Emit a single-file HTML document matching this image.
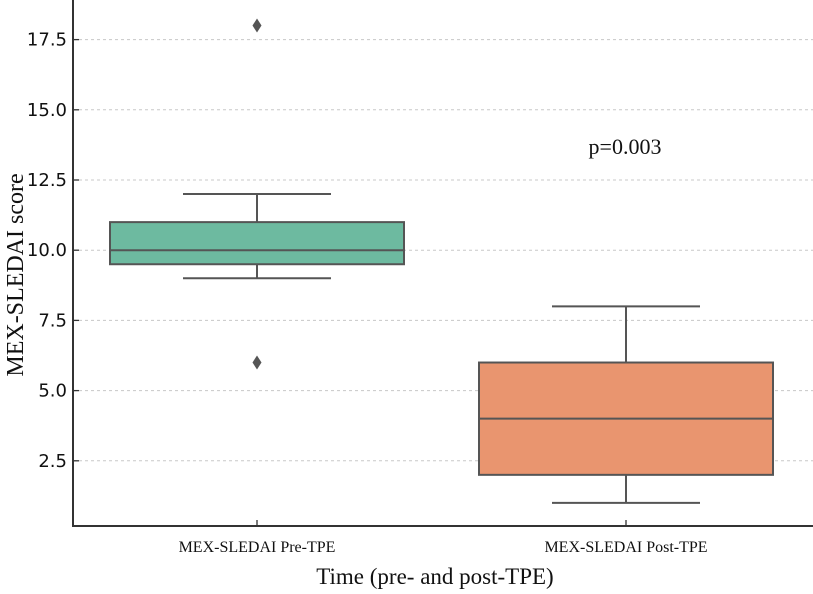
<!DOCTYPE html>
<html><head><meta charset="utf-8"><style>
body{margin:0;background:#fff;}
svg text{font-family:"Liberation Serif",serif;}
</style></head><body>
<svg id="chart" width="813" height="589" viewBox="0 0 813 589" xmlns="http://www.w3.org/2000/svg">
<g id="grid"></g>
<g id="boxes"></g>
<g id="axes"></g>
<text x="625" y="154" font-size="22" text-anchor="middle" fill="#111">p=0.003</text>
<text x="435" y="584" font-size="23" text-anchor="middle" fill="#111">Time (pre- and post-TPE)</text>
<text transform="translate(23,275) rotate(-90)" font-size="24" text-anchor="middle" fill="#111">MEX-SLEDAI score</text>
</svg>
<script>
const categories=["MEX-SLEDAI Pre-TPE","MEX-SLEDAI Post-TPE"];
const q1=[9.5,2];
const median=[10,4];
const q3=[11,6];
const whiskLow=[9,1];
const whiskHigh=[12,8];
const fliers=[[18,6],[]];
const yTicks=[2.5,5.0,7.5,10.0,12.5,15.0,17.5];
const colors=["#6dbaa0","#e9956f"];
const NS="http://www.w3.org/2000/svg";
const y=v=>531-v*28.08;
const x=i=>257+i*369;
const L=73,B=526;
function mk(t,a,p){const e=document.createElementNS(NS,t);for(const k in a)e.setAttribute(k,a[k]);p.appendChild(e);return e;}
const grid=document.getElementById('grid'),axes=document.getElementById('axes'),boxes=document.getElementById('boxes');
yTicks.forEach(v=>{
 const g=mk('line',{x1:L,x2:813,y1:y(v),y2:y(v),stroke:'#c8c8c8','stroke-dasharray':'3,3','stroke-width':1},grid);
 
 
 const t=mk('line',{x1:L,x2:L+6,y1:y(v),y2:y(v),stroke:'#333','stroke-width':1.3},axes);
 
 
 const l=mk('text',{x:L-6,y:y(v)+6,'font-size':18,'text-anchor':'end',fill:'#111',style:'font-family:"DejaVu Sans",sans-serif'},axes);
 l.textContent=v.toFixed(1);
 
 
});
const ax=mk('path',{d:`M${L} 0 V${B} H813`,fill:'none',stroke:'#333','stroke-width':2},axes);


categories.forEach((c,i)=>{
 const cx=x(i),hw=147,cw=74,s='#555';
 const g=mk('g',{},boxes);
 
 
 mk('line',{x1:cx,x2:cx,y1:y(whiskHigh[i]),y2:y(q3[i]),stroke:s,'stroke-width':2},g);
 mk('line',{x1:cx,x2:cx,y1:y(q1[i]),y2:y(whiskLow[i]),stroke:s,'stroke-width':2},g);
 mk('line',{x1:cx-cw,x2:cx+cw,y1:y(whiskHigh[i]),y2:y(whiskHigh[i]),stroke:s,'stroke-width':2},g);
 mk('line',{x1:cx-cw,x2:cx+cw,y1:y(whiskLow[i]),y2:y(whiskLow[i]),stroke:s,'stroke-width':2},g);
 mk('rect',{x:cx-hw,y:y(q3[i]),width:hw*2,height:y(q1[i])-y(q3[i]),fill:colors[i],stroke:s,'stroke-width':2},g);
 mk('line',{x1:cx-hw,x2:cx+hw,y1:y(median[i]),y2:y(median[i]),stroke:s,'stroke-width':2},g);
 fliers[i].forEach(f=>{const d=mk('path',{d:`M${cx} ${y(f)-7} L${cx+4.5} ${y(f)} L${cx} ${y(f)+7} L${cx-4.5} ${y(f)} Z`,fill:'#555'},g);
  
  });
 const t=mk('line',{x1:cx,x2:cx,y1:B,y2:B-6,stroke:'#333','stroke-width':1.3},axes);
 
 
 const l=mk('text',{x:cx,y:552,'font-size':16,'text-anchor':'middle',fill:'#111'},axes);
 l.textContent=c;
 
 
});
</script>
</body></html>
